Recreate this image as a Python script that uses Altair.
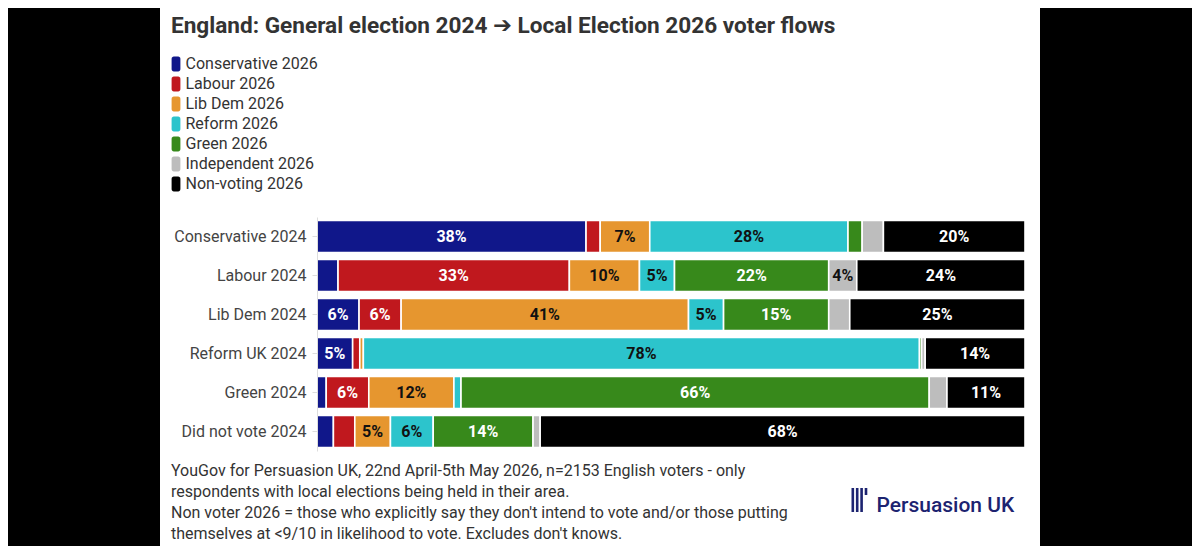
import altair as alt
import pandas as pd

# ---------------- data ----------------
categories = ["Conservative 2024", "Labour 2024", "Lib Dem 2024",
              "Reform UK 2024", "Green 2024", "Did not vote 2024"]
parties = ["Conservative 2026", "Labour 2026", "Lib Dem 2026", "Reform 2026",
           "Green 2026", "Independent 2026", "Non-voting 2026"]

conservative_2026 = [38, 3, 6, 5, 1.3, 2.3]
labour_2026       = [2, 33, 6, 1, 6, 3]
libdem_2026       = [7, 10, 41, 0.5, 12, 5]
reform_2026       = [28, 5, 5, 78, 1, 6]
green_2026        = [2, 22, 15, 0.3, 66, 14]
independent_2026  = [3, 4, 3, 0.5, 2.5, 1]
nonvoting_2026    = [20, 24, 25, 14, 11, 68]

series = [conservative_2026, labour_2026, libdem_2026, reform_2026,
          green_2026, independent_2026, nonvoting_2026]

title_text = "England: General election 2024 \u2794 Local Election 2026 voter flows"
footnote_lines = [
    "YouGov for Persuasion UK, 22nd April-5th May 2026, n=2153 English voters - only",
    "respondents with local elections being held in their area.",
    "Non voter 2026 = those who explicitly say they don't intend to vote and/or those putting",
    "themselves at <9/10 in likelihood to vote. Excludes don't knows.",
]
logo_text = "Persuasion UK"

# ---------------- styles ----------------
colors = ["#10178a", "#c0181e", "#e6962f", "#2cc4cc", "#37891b", "#bdbdbd", "#000000"]
label_colors = ["white", "white", "#111111", "#111111", "white", "#111111", "white"]

rows = []
for pi, (p, vals) in enumerate(zip(parties, series)):
    for ci, (c, v) in enumerate(zip(categories, vals)):
        rows.append({"from": c, "to": p, "value": v, "order": pi,
                     "lblcolor": label_colors[pi]})
df = pd.DataFrame(rows)

FONT = "Roboto"
PLOT_W, PLOT_H = 708, 234
LEFT, TOP = 309, 209          # padding (page offset 8 added -> 317, 217)

pill = ("M-1.1,-1.3 A0.55,0.55 0 0 1 -0.55,-1.85 L0.55,-1.85 A0.55,0.55 0 0 1 1.1,-1.3 "
        "L1.1,1.3 A0.55,0.55 0 0 1 0.55,1.85 L-0.55,1.85 A0.55,0.55 0 0 1 -1.1,1.3 Z")

base = alt.Chart(df).transform_stack(
    stack="value", groupby=["from"], as_=["x0", "x1"], offset="normalize",
    sort=[alt.SortField("order", order="ascending")]
).transform_calculate(
    mid="(datum.x0 + datum.x1) / 2",
    label="datum.value >= 4 ? format(datum.value, '.0f') + '%' : ''"
)

yenc = alt.Y("from:N", sort=categories,
             scale=alt.Scale(paddingInner=0.18, paddingOuter=0.09),
             axis=alt.Axis(title=None, labelFont=FONT, labelFontSize=16,
                           labelColor="#444444", tickColor="#dddddd",
                           domainColor="#dddddd", tickSize=5, labelPadding=6,
                           zindex=2))

bars = base.mark_bar(stroke="white", strokeWidth=1.6).encode(
    x=alt.X("x0:Q", scale=alt.Scale(domain=[0, 1], nice=False), axis=None),
    x2="x1:Q",
    y=yenc,
    color=alt.Color("to:N", sort=parties,
                    scale=alt.Scale(domain=parties, range=colors),
                    legend=alt.Legend(title=None, orient="none",
                                      legendX=-149, legendY=-161,
                                      symbolType=pill, symbolSize=64,
                                      symbolStrokeWidth=0, symbolOpacity=1,
                                      labelFont=FONT, labelFontSize=16,
                                      labelColor="#333333", labelOffset=1.5,
                                      rowPadding=4, padding=0)),
    order=alt.Order("order:Q"),
)

labels = base.mark_text(font=FONT, fontSize=16, fontWeight="bold",
                        baseline="middle", align="center").encode(
    x=alt.X("mid:Q", scale=alt.Scale(domain=[0, 1], nice=False), axis=None),
    y=alt.Y("from:N", sort=categories),
    text="label:N",
    color=alt.Color("lblcolor:N", scale=None),
)

one = pd.DataFrame({"a": [0]})

card = alt.Chart(one).mark_rect(color="white").encode(
    x=alt.value(160 - 317), x2=alt.value(1040 - 317),
    y=alt.value(-217), y2=alt.value(554 - 217),
)

title = alt.Chart(one).mark_text(
    text=title_text, font=FONT + ", DejaVu Sans", fontSize=22.6, fontWeight="bold",
    color="#333333", align="left", baseline="alphabetic"
).encode(x=alt.value(171 - 317), y=alt.value(33 - 217))

foot = alt.Chart(one).mark_text(
    text=footnote_lines, font=FONT, fontSize=16, color="#333333",
    align="left", baseline="middle", lineHeight=21
).encode(x=alt.value(171 - 317), y=alt.value(471 - 217))

logo = alt.Chart(one).mark_text(
    text=logo_text, font=FONT, fontSize=21, fontWeight=500, color="#1c2370",
    align="left", baseline="alphabetic"
).encode(x=alt.value(876.5 - 317), y=alt.value(512 - 217))

icon_tall = [alt.Chart(one).mark_rule(color="#1c2370", strokeWidth=2.6).encode(
    x=alt.value(xx - 317), y=alt.value(488 - 217), y2=alt.value(512 - 217))
    for xx in (852.8, 857.2, 861.6)]
icon_short = alt.Chart(one).mark_rule(color="#1c2370", strokeWidth=2.6).encode(
    x=alt.value(866 - 317), y=alt.value(488 - 217), y2=alt.value(495 - 217))

chart = alt.layer(card, bars, labels, title, foot, logo, *icon_tall, icon_short).properties(
    width=PLOT_W, height=PLOT_H,
    autosize=alt.AutoSizeParams(type="none"),
    padding={"left": LEFT, "top": TOP, "right": 1184 - LEFT - PLOT_W,
             "bottom": 538 - TOP - PLOT_H},
    background="black",
).configure_view(stroke=None)

chart.save("out.html", embed_options={"renderer": "svg", "actions": False})
